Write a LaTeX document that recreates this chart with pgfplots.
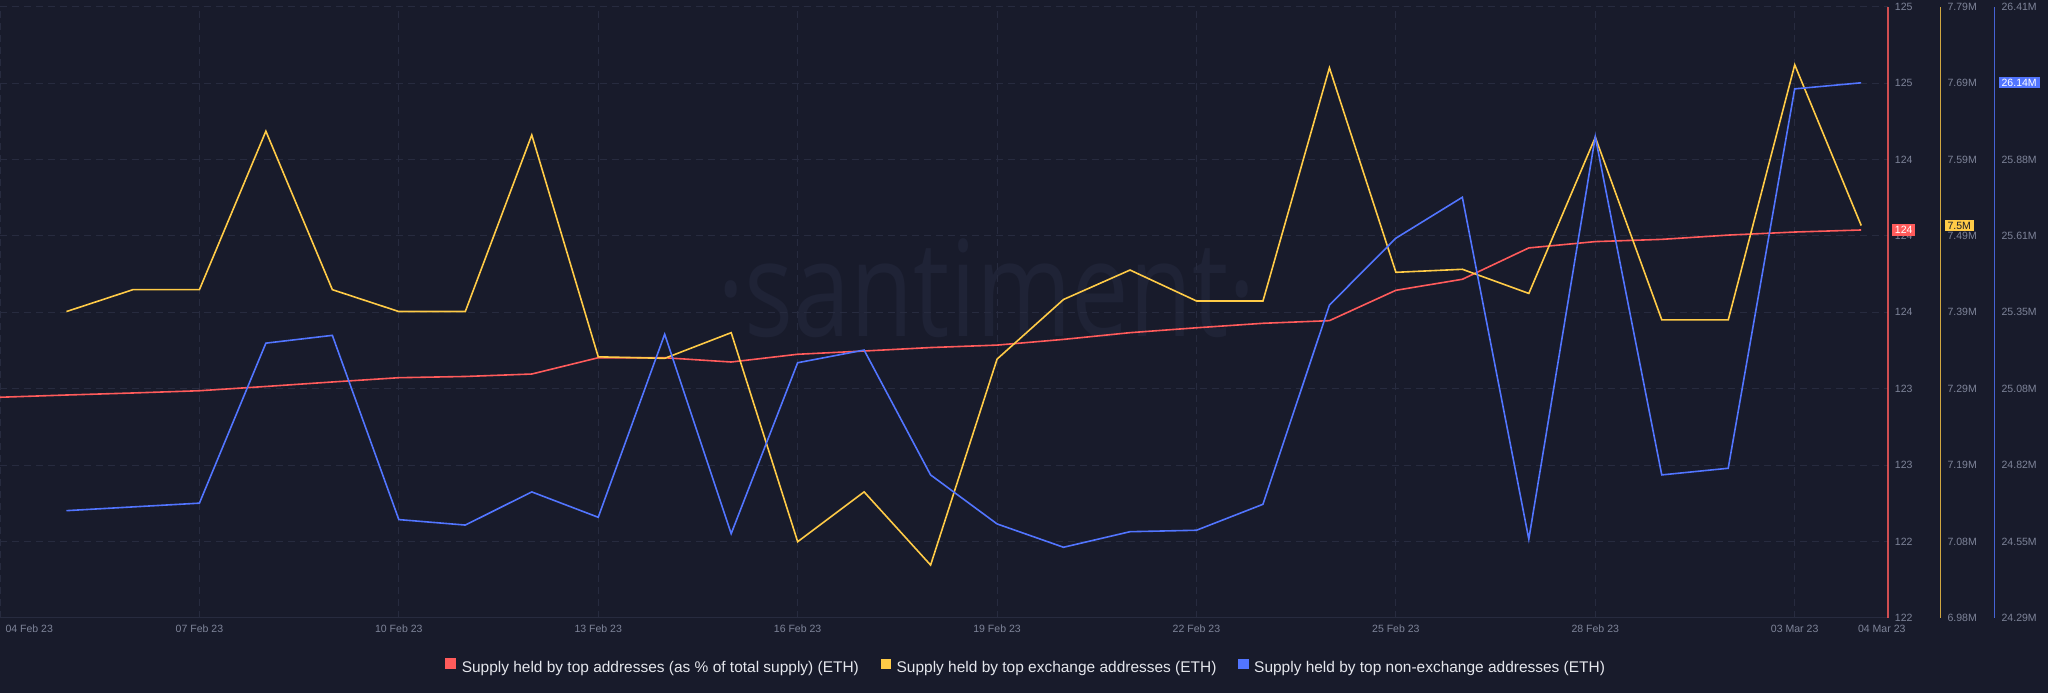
\documentclass[border=0pt]{standalone}
\usepackage{fontspec}
\setmainfont{Liberation Sans}
\newfontfamily\wmfont{Open Sans}
\usepackage{pgfplots}
\usepackage{pgfplotstable}
\pgfplotsset{compat=1.18}
\definecolor{bg}{HTML}{181B2B}
\definecolor{gridc}{HTML}{272B3F}
\definecolor{tickc}{HTML}{7E8499}
\definecolor{legc}{HTML}{E4E6EC}
\definecolor{wmc}{HTML}{1F2336}
\definecolor{redc}{HTML}{FF5B5B}
\definecolor{yelc}{HTML}{FFCB47}
\definecolor{bluc}{HTML}{5275FF}
\newcommand\tickfont{\fontsize{7.9pt}{9pt}\selectfont}
\newcommand\legfont{\fontsize{11.6pt}{13pt}\selectfont}

\pgfplotstableread{
d v
0 123.083
1 123.094
2 123.104
3 123.115
4 123.136
5 123.158
6 123.179
7 123.185
8 123.197
9 123.277
10 123.277
11 123.256
12 123.294
13 123.310
14 123.327
15 123.339
16 123.367
17 123.400
18 123.424
19 123.446
20 123.459
21 123.608
22 123.662
23 123.816
24 123.847
25 123.858
26 123.879
27 123.894
28 123.904
}\redtable

\pgfplotstableread{
d v
1 7.386
2 7.415
3 7.415
4 7.625
5 7.415
6 7.386
7 7.386
8 7.620
9 7.326
10 7.324
11 7.358
12 7.081
13 7.147
14 7.050
15 7.323
16 7.402
17 7.441
18 7.400
19 7.400
20 7.709
21 7.438
22 7.442
23 7.410
24 7.617
25 7.375
26 7.375
27 7.713
28 7.500
}\yeltable

\pgfplotstableread{
d v
1 24.662
2 24.675
3 24.688
4 25.243
5 25.270
6 24.631
7 24.612
8 24.727
9 24.639
10 25.274
11 24.582
12 25.175
13 25.219
14 24.786
15 24.616
16 24.535
17 24.589
18 24.594
19 24.684
20 25.375
21 25.607
22 25.749
23 24.563
24 25.959
25 24.786
26 24.809
27 26.125
28 26.146
}\blutable

\pgfplotsset{
  common/.style={
    at={(0pt,56.325pt)}, anchor=south west,
    scale only axis, height=458.4pt, xmin=0,
    major tick length=0pt,
    axis line style={-},
    /pgf/number format/assume math mode=true,
    yticklabel style={font=\tickfont, text=tickc, anchor=west, inner sep=0pt, xshift=5pt},
    clip=false,
  },
}

\begin{document}
\begin{tikzpicture}
\fill[bg] (0,0) rectangle (1536pt,519.75pt);
\node[anchor=base west, inner sep=0pt, text=wmc, font=\wmfont\fontsize{100pt}{110pt}\selectfont, xscale=0.77] at (538pt,267.2pt) {·santiment·};

% red axis (main)
\begin{axis}[common,
  width=1416pt, xmax=28.404,
  ymin=122, ymax=125,
  axis x line*=bottom, axis y line*=right,
  x axis line style={draw=gridc, line width=0.8pt},
  y axis line style={draw=redc, draw opacity=0.8, line width=1pt},
  grid=major,
  grid style={draw=gridc, line width=0.75pt, dash pattern=on 5pt off 4pt},
  xtick={0,3,6,9,12,15,18,21,24,27},
  xticklabels={,07 Feb 23,10 Feb 23,13 Feb 23,16 Feb 23,19 Feb 23,22 Feb 23,25 Feb 23,28 Feb 23,03 Mar 23},
  extra x ticks={0.44,28.31},
  extra x tick labels={04 Feb 23,04 Mar 23},
  extra x tick style={grid=none},
  xticklabel style={font=\tickfont, text=tickc, anchor=north, inner sep=0pt, yshift=-5pt},
  ytick={122,122.375,122.75,123.125,123.5,123.875,124.25,124.625,125},
  yticklabels={122,122,123,123,124,124,124,125,125},
  extra y ticks={123.904},
  extra y tick labels={124},
  extra y tick style={grid=none, yticklabel style={fill=redc, text=white, inner xsep=2.2pt, inner ysep=1.4pt, xshift=-2.2pt}},
  legend style={at={(0.5429,-0.0798)}, anchor=center, draw=none, fill=none,
    legend columns=3, font=\legfont, text=legc, inner sep=0pt,
    nodes={inner sep=0pt},
    /tikz/every odd column/.append style={column sep=4.5pt},
    /tikz/every even column/.append style={column sep=16.5pt}},
  legend image code/.code={\fill[#1] (0pt,0pt) rectangle (6.9pt,6.9pt);},
]
\addplot[redc, line width=1.2pt, mark=none] table[x=d, y=v] {\redtable};
\addlegendentry{Supply held by top addresses (as \% of total supply) (ETH)}
\addlegendimage{yelc, fill=yelc}
\addlegendentry{Supply held by top exchange addresses (ETH)}
\addlegendimage{bluc, fill=bluc}
\addlegendentry{Supply held by top non-exchange addresses (ETH)}
\end{axis}

% yellow axis
\begin{axis}[common,
  width=1455.45pt, xmax=29.195,
  ymin=6.98, ymax=7.79,
  axis x line=none, axis y line*=right,
  y axis line style={draw=yelc, draw opacity=0.8, line width=1pt},
  ytick={6.98,7.08125,7.1825,7.28375,7.385,7.48625,7.5875,7.68875,7.79},
  yticklabels={6.98M,7.08M,7.19M,7.29M,7.39M,7.49M,7.59M,7.69M,7.79M},
  extra y ticks={7.5},
  extra y tick labels={7.5M},
  extra y tick style={yticklabel style={fill=yelc, text=bg, inner xsep=2.2pt, inner ysep=1.4pt, xshift=-2.2pt}},
]
\addplot[yelc, line width=1.2pt, mark=none] table[x=d, y=v] {\yeltable};
\end{axis}

% blue axis
\begin{axis}[common,
  width=1496pt, xmax=30.009,
  ymin=24.29, ymax=26.41,
  axis x line=none, axis y line*=right,
  y axis line style={draw=bluc, draw opacity=0.8, line width=1pt},
  ytick={24.29,24.555,24.82,25.085,25.35,25.615,25.88,26.145,26.41},
  yticklabels={24.29M,24.55M,24.82M,25.08M,25.35M,25.61M,25.88M,26.14M,26.41M},
  extra y ticks={26.146},
  extra y tick labels={26.14M},
  extra y tick style={yticklabel style={fill=bluc, text=white, inner xsep=2.2pt, inner ysep=1.4pt, xshift=-2.2pt}},
]
\addplot[bluc, line width=1.2pt, mark=none] table[x=d, y=v] {\blutable};
\end{axis}

\pgfresetboundingbox
\path (0,0) rectangle (1536pt,519.75pt);
\end{tikzpicture}
\end{document}
